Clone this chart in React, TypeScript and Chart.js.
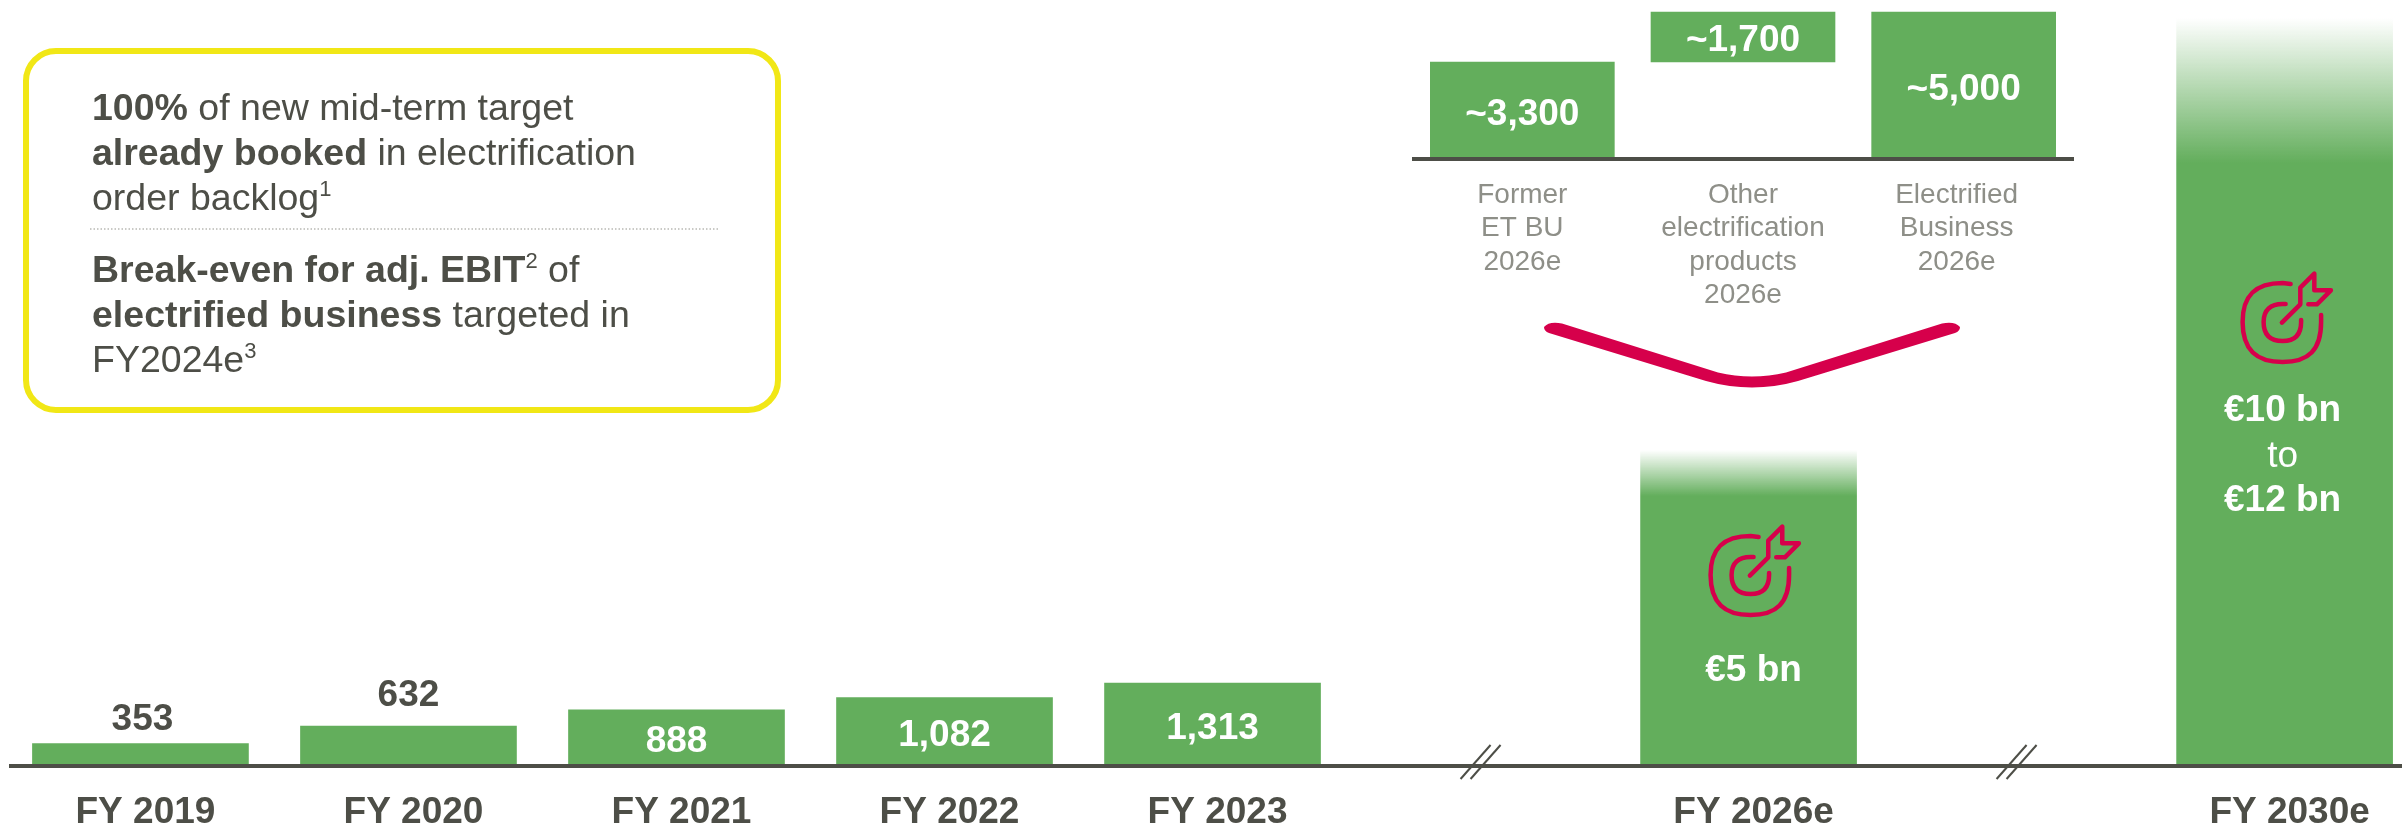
import React, { useEffect, useRef } from "react";
import { Chart, registerables } from "chart.js";

Chart.register(...registerables);

// Electrified business order intake, EUR million
const fiscalYears = ["FY 2019", "FY 2020", "FY 2021", "FY 2022", "FY 2023", "", "FY 2026e", "", "FY 2030e"];
const intake = [353, 632, 888, 1082, 1313, null, 5000, null, 12000];
const intakeLabels = ["353", "632", "888", "1,082", "1,313", "", "", "", ""];

// Breakdown of the 2026 target
const splitCategories = [
  ["Former", "ET BU", "2026e"],
  ["Other", "electrification", "products", "2026e"],
  ["Electrified", "Business", "2026e"],
];
const splitRanges: [number, number][] = [[0, 3300], [3300, 5000], [0, 5000]];
const splitLabels = ["~3,300", "~1,700", "~5,000"];

type Run = { t: string; b?: boolean; sup?: boolean };
const calloutTop: Run[][] = [
  [{ t: "100%", b: true }, { t: " of new mid-term target" }],
  [{ t: "already booked", b: true }, { t: " in electrification" }],
  [{ t: "order backlog" }, { t: "1", sup: true }],
];
const calloutBottom: Run[][] = [
  [{ t: "Break-even for adj. EBIT", b: true }, { t: "2", sup: true }, { t: " of" }],
  [{ t: "electrified business", b: true }, { t: " targeted in" }],
  [{ t: "FY2024e" }, { t: "3", sup: true }],
];

const FONT = '"Liberation Sans", Arial, sans-serif';
const GREEN = "#63ae5c";
const GREEN_RGB = "99,174,92";
const INK = "#4d4e47";
const MUTED = "#8e8f88";
const RED = "#d6004b";
const YELLOW = "#f1e716";

// Bars that dissolve into white towards their top: index -> [fade start, fade end] in pixels
const fades: Record<number, [number, number]> = { 6: [450, 496], 8: [18, 163] };

function drawRuns(ctx: CanvasRenderingContext2D, x: number, y: number, runs: Run[]) {
  let cx = x;
  ctx.textAlign = "left";
  ctx.textBaseline = "alphabetic";
  for (const r of runs) {
    ctx.font = r.sup ? `22px ${FONT}` : `${r.b ? "bold " : ""}37.5px ${FONT}`;
    ctx.fillText(r.t, cx, r.sup ? y - 14 : y);
    cx += ctx.measureText(r.t).width;
  }
}

function drawCallout(ctx: CanvasRenderingContext2D) {
  ctx.save();
  ctx.strokeStyle = YELLOW;
  ctx.lineWidth = 6;
  ctx.beginPath();
  ctx.roundRect(26, 51, 752, 359, 30);
  ctx.stroke();

  ctx.fillStyle = INK;
  calloutTop.forEach((line, i) => drawRuns(ctx, 92, 120 + i * 45, line));
  calloutBottom.forEach((line, i) => drawRuns(ctx, 92, 282 + i * 45, line));

  ctx.strokeStyle = "#b9b9b4";
  ctx.lineWidth = 1.5;
  ctx.setLineDash([1.5, 2]);
  ctx.beginPath();
  ctx.moveTo(90, 229);
  ctx.lineTo(720, 229);
  ctx.stroke();
  ctx.restore();
}

function drawChevron(ctx: CanvasRenderingContext2D) {
  ctx.save();
  ctx.fillStyle = RED;
  ctx.beginPath();
  ctx.moveTo(1544, 327);
  ctx.quadraticCurveTo(1549, 321, 1562, 323.5);
  ctx.lineTo(1718, 372.5);
  ctx.quadraticCurveTo(1752, 380.5, 1786, 372.5);
  ctx.lineTo(1942, 323.5);
  ctx.quadraticCurveTo(1955, 321, 1960, 327);
  ctx.quadraticCurveTo(1960, 331, 1955, 333);
  ctx.lineTo(1798, 381);
  ctx.quadraticCurveTo(1752, 394, 1706, 381);
  ctx.lineTo(1549, 333);
  ctx.quadraticCurveTo(1544, 331, 1544, 327);
  ctx.closePath();
  ctx.fill();
  ctx.restore();
}

function drawTargetIcon(ctx: CanvasRenderingContext2D, cx: number, cy: number) {
  ctx.save();
  ctx.translate(cx, cy);
  ctx.strokeStyle = RED;
  ctx.lineWidth = 4.5;
  ctx.lineCap = "round";
  ctx.lineJoin = "round";
  ctx.beginPath();
  ctx.moveTo(8, -38);
  ctx.lineTo(0, -39);
  ctx.bezierCurveTo(-28, -39, -40, -26, -40, 0);
  ctx.bezierCurveTo(-40, 28, -26, 40, 0, 40);
  ctx.bezierCurveTo(26, 40, 38.5, 28, 38.5, 0);
  ctx.lineTo(38.5, -7);
  ctx.moveTo(3, -18);
  ctx.lineTo(0, -18);
  ctx.bezierCurveTo(-12, -18, -19, -12, -19, 0);
  ctx.bezierCurveTo(-19, 13, -12, 19, 0, 19);
  ctx.bezierCurveTo(12, 19, 18.5, 13, 18.5, 0);
  ctx.lineTo(18.5, -2);
  ctx.moveTo(-0.7, 0.7);
  ctx.lineTo(17.7, -17.7);
  ctx.lineTo(17.7, -34.3);
  ctx.lineTo(31.7, -48.3);
  ctx.lineTo(31.7, -31.7);
  ctx.lineTo(48.3, -31.7);
  ctx.lineTo(34.3, -17.7);
  ctx.lineTo(25.7, -17.7);
  ctx.stroke();
  ctx.restore();
}

function centered(ctx: CanvasRenderingContext2D, text: string, x: number, y: number, color: string, bold = true) {
  ctx.font = `${bold ? "bold " : ""}37px ${FONT}`;
  ctx.fillStyle = color;
  ctx.textAlign = "center";
  ctx.textBaseline = "middle";
  ctx.fillText(text, x, y);
}

// Annotations of the main chart: value labels, axis breaks, callout, target markers
const mainOverlay = {
  id: "mainOverlay",
  afterDraw(chart: any) {
    const { ctx, scales } = chart;
    const bars = chart.getDatasetMeta(0).data;
    ctx.save();
    drawCallout(ctx);
    drawChevron(ctx);

    const lift: Record<number, number> = { 0: 24, 1: 30 };
    intakeLabels.forEach((label, i) => {
      if (!label) return;
      const el = bars[i];
      if (i in lift) centered(ctx, label, el.x + (i === 0 ? 2 : 0), el.y - lift[i], INK);
      else centered(ctx, label, el.x, (el.y + el.base) / 2 + 4, "#ffffff");
    });

    const x2026 = scales.x.getPixelForValue(6);
    const x2030 = scales.x.getPixelForValue(8);
    drawTargetIcon(ctx, x2026 + 2, 575);
    drawTargetIcon(ctx, x2030 - 2, 322);
    centered(ctx, "€5 bn", x2026 + 5, 671, "#ffffff");
    centered(ctx, "€10 bn", x2030 - 2, 411, "#ffffff");
    centered(ctx, "to", x2030 - 2, 457, "#ffffff", false);
    centered(ctx, "€12 bn", x2030 - 2, 501, "#ffffff");

    // Axis break marks in the two empty slots
    ctx.strokeStyle = INK;
    ctx.lineWidth = 2;
    for (const slot of [5, 7]) {
      const c = scales.x.getPixelForValue(slot);
      for (const dx of [-5, 5]) {
        ctx.beginPath();
        ctx.moveTo(c + dx - 15, 779);
        ctx.lineTo(c + dx + 15, 745);
        ctx.stroke();
      }
    }
    ctx.restore();
  },
};

// Bar values and the multi-line captions below the breakdown axis
const splitOverlay = {
  id: "splitOverlay",
  afterDatasetsDraw(chart: any) {
    const { ctx, scales } = chart;
    ctx.save();
    chart.getDatasetMeta(0).data.forEach((el: any, i: number) => {
      centered(ctx, splitLabels[i], el.x, (el.y + el.base) / 2 + 4, "#ffffff");
    });
    ctx.font = `28px ${FONT}`;
    ctx.fillStyle = MUTED;
    ctx.textAlign = "center";
    ctx.textBaseline = "middle";
    splitCategories.forEach((lines, i) => {
      const x = scales.x.getPixelForValue(i) - (i === 2 ? 7 : 0);
      lines.forEach((line, n) => ctx.fillText(line, x, scales.x.top + 36 + n * 33.5));
    });
    ctx.restore();
  },
};

export default function App() {
  const mainRef = useRef<HTMLCanvasElement>(null);
  const splitRef = useRef<HTMLCanvasElement>(null);

  useEffect(() => {
    const main = new Chart(mainRef.current!, {
      type: "bar",
      data: {
        datasets: [
          {
            data: intake.map((y, x) => ({ x, y })) as any,
            barThickness: 216,
            borderWidth: 0,
            backgroundColor: (c: any) => {
              const fade = fades[c.dataIndex];
              if (!fade) return GREEN;
              const g = c.chart.ctx.createLinearGradient(0, fade[0], 0, fade[1]);
              g.addColorStop(0, `rgba(${GREEN_RGB},0)`);
              g.addColorStop(1, `rgba(${GREEN_RGB},1)`);
              return g;
            },
          },
        ],
      },
      options: {
        responsive: false,
        animation: false,
        layout: { padding: { left: 11, right: 0, top: 0, bottom: 0 }, autoPadding: false },
        plugins: { legend: { display: false }, tooltip: { enabled: false } },
        scales: {
          x: {
            type: "linear",
            offset: false,
            min: -0.483,
            max: 8.438,
            grid: { display: false, drawTicks: false, offset: false },
            border: { display: true, color: INK, width: 4, z: 1 },
            afterBuildTicks: (s: any) => {
              s.ticks = fiscalYears.map((_, value) => ({ value }));
            },
            afterFit: (s: any) => {
              s.height = 61;
            },
            ticks: {
              autoSkip: false,
              maxRotation: 0,
              padding: 25,
              labelOffset: 5,
              color: INK,
              font: { family: FONT, size: 37, weight: "bold" },
              callback: (v: any) => fiscalYears[v] ?? "",
            },
          },
          y: { display: false, min: 0, max: 12120 },
        },
      },
      plugins: [mainOverlay],
    } as any);

    const split = new Chart(splitRef.current!, {
      type: "bar",
      data: {
        labels: splitCategories.map((lines) => lines.join(" ")),
        datasets: [{ data: splitRanges, backgroundColor: GREEN, barThickness: 184, borderWidth: 0 }],
      },
      options: {
        responsive: false,
        animation: false,
        layout: { padding: 0, autoPadding: false },
        plugins: { legend: { display: false }, tooltip: { enabled: false } },
        scales: {
          x: {
            grid: { display: false, drawTicks: false },
            border: { display: true, color: INK, width: 4, z: 1 },
            afterFit: (s: any) => {
              s.height = 161;
            },
            ticks: { display: false },
          },
          y: { display: false, min: 0, max: 5408 },
        },
      },
      plugins: [splitOverlay],
    } as any);

    return () => {
      main.destroy();
      split.destroy();
    };
  }, []);

  return (
    <div style={{ position: "absolute", left: 0, top: 0, width: 2402, height: 827, overflow: "hidden", background: "#fff" }}>
      <canvas ref={mainRef} width={2402} height={827} style={{ position: "absolute", left: 0, top: 0 }} />
      <canvas ref={splitRef} width={662} height={320} style={{ position: "absolute", left: 1412, top: 0 }} />
    </div>
  );
}
